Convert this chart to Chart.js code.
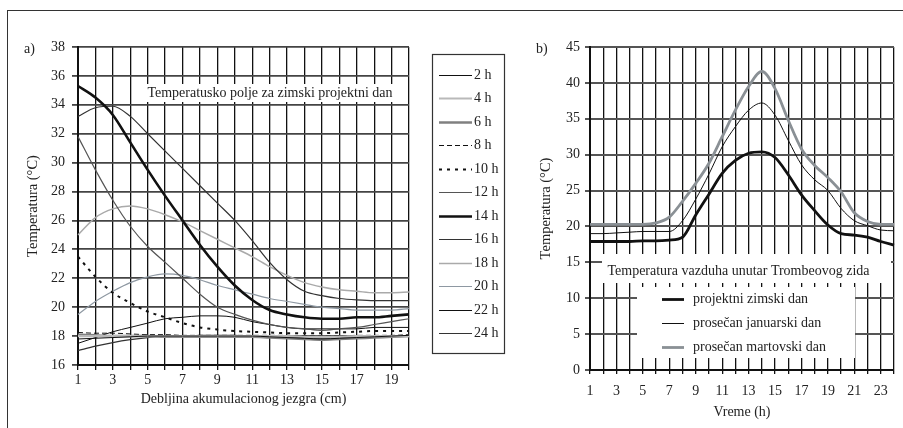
<!DOCTYPE html>
<html>
<head>
<meta charset="utf-8">
<script src="https://cdn.jsdelivr.net/npm/chart.js@4.4.1/dist/chart.umd.min.js"></script>
<style>
  html, body { margin: 0; padding: 0; background: #fff; width: 903px; height: 428px; overflow: hidden; }
  #frame { position: absolute; left: 7px; top: 10px; width: 1000px; height: 1000px; border-left: 1.5px solid #333; border-top: 1.5px solid #333; }
  #ca { position: absolute; left: 0; top: 0; }
  #cb { position: absolute; left: 520px; top: 0; }
</style>
</head>
<body>
<div id="frame"></div>
<canvas id="ca" width="520" height="428"></canvas>
<canvas id="cb" width="383" height="428"></canvas>
<script>
// ---------- Chart a) data ----------
const thicknessCm = ['1','2','3','4','5','6','7','8','9','10','11','12','13','14','15','16','17','18','19','20'];
const xTickLabelsA = ['1','3','5','7','9','11','13','15','17','19'];
const yTicksA = [16,18,20,22,24,26,28,30,32,34,36,38];
const hourLabelsA = ['2 h','4 h','6 h','8 h','10 h','12 h','14 h','16 h','18 h','20 h','22 h','24 h'];
const t2  = [17.8,17.85,17.9,17.95,18.0,18.0,18.0,18.0,18.0,18.0,18.0,17.95,17.9,17.85,17.8,17.85,17.9,17.95,18.0,18.05];
const t4  = [18.0,18.0,18.0,18.0,18.0,18.0,18.0,18.0,18.0,18.0,18.0,18.0,18.0,17.95,17.95,17.95,18.0,18.0,18.0,18.0];
const t6  = [18.1,18.05,18.0,18.0,18.0,17.95,17.95,17.95,17.95,17.95,17.95,17.9,17.85,17.8,17.75,17.8,17.85,17.9,17.95,18.0];
const t8  = [18.25,18.2,18.2,18.15,18.1,18.1,18.05,18.05,18.05,18.05,18.05,18.05,18.05,18.0,18.0,18.0,18.05,18.05,18.05,18.1];
const t10 = [23.5,22.1,21.0,20.3,19.7,19.3,18.9,18.6,18.45,18.35,18.3,18.25,18.2,18.2,18.2,18.25,18.3,18.35,18.35,18.35];
const t12 = [31.8,29.5,27.4,25.6,24.2,23.1,22.0,20.9,20.0,19.5,19.1,18.8,18.6,18.5,18.4,18.5,18.6,18.8,19.0,19.2];
const t14 = [35.3,34.5,33.3,31.4,29.5,27.7,26.0,24.3,22.8,21.5,20.5,19.8,19.5,19.3,19.2,19.2,19.3,19.3,19.4,19.5];
const t16 = [33.2,33.8,33.9,33.2,32.0,30.8,29.6,28.4,27.2,26.0,24.6,23.1,21.9,21.1,20.8,20.6,20.5,20.45,20.45,20.45];
const t18 = [25.0,26.2,26.8,27.0,26.8,26.4,25.9,25.3,24.7,24.1,23.5,22.8,22.2,21.7,21.4,21.2,21.1,21.0,21.0,21.05];
const t20 = [19.5,20.4,21.1,21.7,22.1,22.3,22.2,21.9,21.5,21.2,20.9,20.6,20.4,20.2,20.0,19.9,19.8,19.8,19.8,19.9];
const t22 = [17.5,17.9,18.3,18.6,18.9,19.2,19.3,19.4,19.4,19.3,19.0,18.8,18.6,18.5,18.5,18.5,18.5,18.6,18.6,18.6];
const t24 = [17.0,17.3,17.55,17.75,17.9,18.0,18.0,18.05,18.05,18.05,18.0,18.0,17.95,17.9,17.85,17.9,17.95,18.0,18.0,18.0];
const titleA = 'Temperatusko polje za zimski projektni dan';

// ---------- Chart b) data ----------
const hours = ['1','2','3','4','5','6','7','8','9','10','11','12','13','14','15','16','17','18','19','20','21','22','23','24'];
const xTickLabelsB = ['1','3','5','7','9','11','13','15','17','19','21','23'];
const yTicksB = [0,5,10,15,20,25,30,35,40,45];
const seriesNamesB = ['projektni zimski dan','prosečan januarski dan','prosečan martovski dan'];
const projektni = [17.9,17.9,17.9,17.9,18.0,18.0,18.1,18.5,21.6,24.5,27.4,29.2,30.2,30.4,29.6,27.2,24.4,22.2,20.2,19.0,18.8,18.5,17.9,17.4];
const januarski = [19.0,19.0,19.1,19.2,19.3,19.3,19.3,20.8,23.8,27.3,31.1,33.9,36.2,37.2,35.5,32.0,28.6,26.5,25.0,22.5,20.8,20.1,19.5,19.4];
const martovski = [20.3,20.3,20.3,20.3,20.3,20.5,21.3,23.5,26.0,28.8,32.5,36.2,39.5,41.6,39.2,34.8,30.8,28.5,26.8,24.8,21.9,20.7,20.3,20.3];
const titleB = 'Temperatura vazduha unutar Trombeovog zida';

const FONT = 'Liberation Serif';
const TXT = '#222';

function mkDs(label, data, color, width, dash) {
  return { label, data, borderColor: color, borderWidth: width, borderDash: dash || [],
           pointRadius: 0, fill: false, cubicInterpolationMode: 'monotone' };
}

const dsA = [
  mkDs(hourLabelsA[0], t2, '#111', 1),
  mkDs(hourLabelsA[1], t4, '#b9b9b9', 2.2),
  mkDs(hourLabelsA[2], t6, '#808080', 2.5),
  mkDs(hourLabelsA[3], t8, '#111', 1, [5,3]),
  mkDs(hourLabelsA[4], t10, '#111', 2, [3,5]),
  mkDs(hourLabelsA[5], t12, '#555', 1.2),
  mkDs(hourLabelsA[6], t14, '#111', 2.6),
  mkDs(hourLabelsA[7], t16, '#333', 1.2),
  mkDs(hourLabelsA[8], t18, '#aaaaaa', 1.5),
  mkDs(hourLabelsA[9], t20, '#8e98a2', 1.2),
  mkDs(hourLabelsA[10], t22, '#111', 1),
  mkDs(hourLabelsA[11], t24, '#333', 1.2)
];

const decorA = {
  id: 'decorA',
  beforeDatasetsDraw(chart) {
    const c = chart.ctx;
    c.save();
    c.fillStyle = '#fff';
    c.fillRect(143, 84, 257, 18);
    c.restore();
  },
  afterDraw(chart) {
    const c = chart.ctx;
    c.save();
    c.font = '14px "' + FONT + '"';
    c.fillStyle = TXT;
    c.textBaseline = 'middle';
    c.textAlign = 'center';
    c.fillText(titleA, 270, 93.5);
    c.textAlign = 'left';
    c.fillText('a)', 24, 49);
    // legend box
    c.fillStyle = '#fff';
    c.fillRect(432, 54, 72, 299);
    c.strokeStyle = '#333';
    c.lineWidth = 1.2;
    c.strokeRect(432.5, 54.5, 72, 299);
    chart.data.datasets.forEach((ds, i) => {
      const y = Math.round(75 + i * 23.45) + 0.5;
      c.beginPath();
      c.strokeStyle = ds.borderColor;
      c.lineWidth = ds.borderWidth;
      c.setLineDash(ds.borderDash || []);
      c.moveTo(439, y);
      c.lineTo(472, y);
      c.stroke();
      c.setLineDash([]);
      c.fillStyle = TXT;
      c.textAlign = 'left';
      c.fillText(ds.label, 474, y);
    });
    c.restore();
  }
};

new Chart(document.getElementById('ca'), {
  type: 'line',
  data: { labels: thicknessCm, datasets: dsA },
  options: {
    responsive: false, animation: false,
    layout: { padding: { left: 0, right: 111, top: 47, bottom: 0 } },
    plugins: { legend: { display: false }, tooltip: { enabled: false } },
    scales: {
      x: {
        type: 'category', offset: false,
        grid: { color: '#111', lineWidth: 1.3, tickLength: 5, offset: false },
        border: { color: '#111', width: 2 },
        ticks: { autoSkip: false, maxRotation: 0, padding: 2, color: TXT, font: { family: FONT, size: 14 },
          callback: function(v) { const l = this.getLabelForValue(v); return xTickLabelsA.includes(l) ? l : ''; } },
        title: { display: true, text: 'Debljina akumulacionog jezgra (cm)', color: TXT, font: { family: FONT, size: 14 }, padding: { top: 0, bottom: 20 } },
        afterFit: s => { s.height = 63; }
      },
      y: {
        type: 'linear', min: 16, max: 38,
        afterBuildTicks: s => { s.ticks = yTicksA.map(v => ({ value: v })); },
        grid: { color: '#444', lineWidth: 1.8, tickLength: 6 },
        border: { color: '#111', width: 2 },
        ticks: { padding: 7, color: TXT, font: { family: FONT, size: 14 } },
        title: { display: true, text: 'Temperatura (°C)', color: TXT, font: { family: FONT, size: 14.5 }, padding: { top: 24, bottom: 0 } },
        afterFit: s => { s.width = 78; }
      }
    }
  },
  plugins: [decorA]
});

// ---------- Chart b ----------
const dsB = [
  mkDs(seriesNamesB[0], projektni, '#111', 2.8),
  mkDs(seriesNamesB[1], januarski, '#111', 1),
  mkDs(seriesNamesB[2], martovski, '#8a9095', 2.8)
];

const decorB = {
  id: 'decorB',
  beforeDatasetsDraw(chart) {
    const c = chart.ctx;
    c.save();
    c.fillStyle = '#fff';
    c.fillRect(82, 254, 289, 29);
    c.fillRect(117, 287, 218, 71);
    c.restore();
  },
  afterDraw(chart) {
    const c = chart.ctx;
    c.save();
    c.font = '14px "' + FONT + '"';
    c.fillStyle = TXT;
    c.textBaseline = 'middle';
    c.textAlign = 'center';
    c.fillText(titleB, 218.5, 271.5);
    c.textAlign = 'left';
    c.fillText('b)', 16, 49);
    chart.data.datasets.forEach((ds, i) => {
      const y = 299 + i * 24 + 0.5;
      c.beginPath();
      c.strokeStyle = ds.borderColor;
      c.lineWidth = ds.borderWidth;
      c.moveTo(142, y);
      c.lineTo(164, y);
      c.stroke();
      c.fillStyle = TXT;
      c.fillText(ds.label, 173, y);
    });
    c.restore();
  }
};

new Chart(document.getElementById('cb'), {
  type: 'line',
  data: { labels: hours, datasets: dsB },
  options: {
    responsive: false, animation: false,
    layout: { padding: { left: 0, right: 0, top: 47, bottom: 0 } },
    plugins: { legend: { display: false }, tooltip: { enabled: false } },
    scales: {
      x: {
        type: 'category', offset: false,
        grid: { color: '#111', lineWidth: 1.3, tickLength: 4, offset: false },
        border: { color: '#111', width: 2 },
        ticks: { autoSkip: false, maxRotation: 0, padding: 9, color: TXT, font: { family: FONT, size: 14 },
          callback: function(v) { const l = this.getLabelForValue(v); return xTickLabelsB.includes(l) ? l : ''; } },
        title: { display: true, text: 'Vreme (h)', color: TXT, font: { family: FONT, size: 14 }, padding: { top: 0, bottom: 7.5 } },
        afterFit: s => { s.height = 58; }
      },
      y: {
        type: 'linear', min: 0, max: 45,
        afterBuildTicks: s => { s.ticks = yTicksB.map(v => ({ value: v })); },
        grid: { color: '#555', lineWidth: 2, tickLength: 5 },
        border: { color: '#111', width: 2 },
        ticks: { padding: 5, color: TXT, font: { family: FONT, size: 14 } },
        title: { display: true, text: 'Temperatura (°C)', color: TXT, font: { family: FONT, size: 14.5 }, padding: { top: 17, bottom: 0 } },
        afterFit: s => { s.width = 70; }
      }
    }
  },
  plugins: [decorB]
});
</script>
</body>
</html>
